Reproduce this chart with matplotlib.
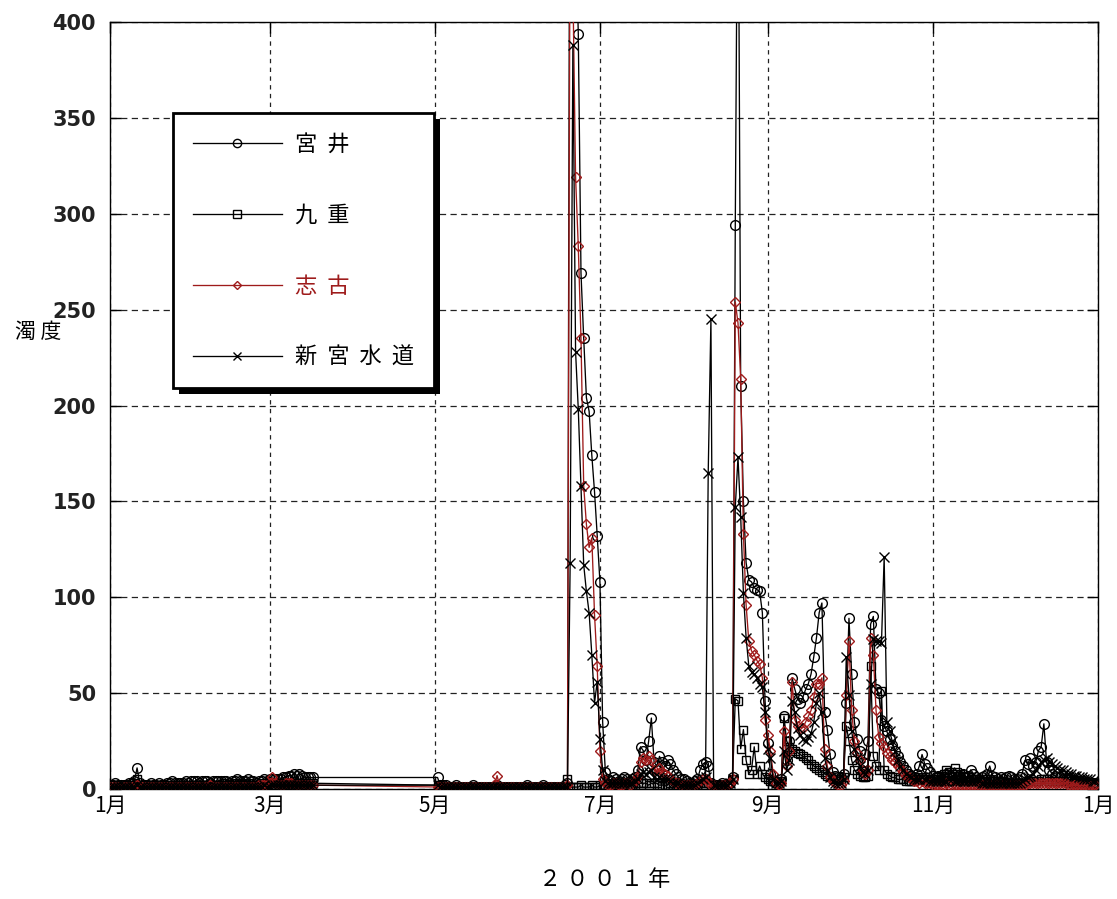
import numpy as np
import matplotlib
matplotlib.use('Agg')
import matplotlib.pyplot as plt
import matplotlib.dates as mdates
from matplotlib.ticker import FuncFormatter
from matplotlib.patches import Rectangle

plt.rcParams['font.family'] = ['Noto Sans CJK JP', 'DejaVu Sans']

# ---- data: daily turbidity, 2001 (day index 0 = Jan 1); no data Mar 18 - Apr 30 ----
days = list(range(0, 76)) + list(range(121, 365))

miyai = [  # 宮井
    2,2,3,2,2,2,2,3,3,4, 11,3,2,2,2,3,2,2,3,2, 2,3,3,4,3,3,3,3,4,3, 4,4,4,3,4,4,4,3,4,4,
    4,4,4,4,3,4,4,5,4,4, 4,5,4,4,3,4,4,5,4,5, 5,5,5,5,6,6,7,7,8,7, 8,7,6,6,6,6,
    # May
    6,2,2,2,1,1,1,2,1,1, 1,1,1,2,1,1,1,1,1,1, 1,1,2,1,1,1,1,1,1,1, 1,
    # June
    1,1,2,1,1,1,1,1,2,1, 1,1,1,1,1,1,2, 3,600,600,450,394,269,235,204,197,174,155,132,108,
    # July
    35,9, 5,4,6,5,4,5,6,5,4,5,6, 10, 22,20,15,25,37,14,12,17,14,12,15,13,10,8,6,5,5,
    # Aug
    4,3,3,4,5, 10,13,14,12,3, 2,2,2,3,2,2,3, 6, 294,520,210,150,118,109,108,105,104,103,92,46,24,
    # Sep
    8,4,3,3,5, 38,15,25,58,52, 47,45,48,52,55, 60,69,79,92,97, 40,31,18,9,7, 6,6,8,45,89,
    # Oct
    60,35,26,20,14, 18,25,86,90,52, 50,36,33,30,26, 23,20,17,14,12, 10,8,7,6,8, 12,18,13,11,9, 7,
    # Nov
    6,7,5,6,8,7,6,5,6,7, 8,6,7,10,8,6,5,6,7,8, 12,7,6,5,6,5,6,7,6,5,
    # Dec
    5,6,8,15,13,16,12,14,20,22, 34, 14,10,8,7,6,6,5,5,5,4, 4,4,4,4,4,3,3,3,3,
]

kokonoe = [  # 九重
    1,1,2,1,1,1,1,2,2,3, 5,2,1,1,1,2,1,1,2,1, 1,2,2,2,2,2,2,2,2,2, 2,2,2,2,2,2,2,2,2,2,
    2,2,3,2,2,2,2,3,2,2, 2,3,2,2,2,2,2,3,2,3, 3,3,3,3,3,3,3,3,4,3, 3,3,3,3,3,3,
    # May
    2,1,1,1,1,1,1,1,1,1, 1,1,1,1,1,1,1,1,1,1, 1,1,1,1,1,1,1,1,1,1, 1,
    # June
    1,1,1,1,1,1,1,1,1,1, 1,1,1,1,1,1,1, 5,1,1,1,1,2,1,1,1,2,1,1,2,
    # July
    2,2,2,2,3,2,2,2,2,2, 2,2,2,3,3,3,3,2,3,3, 3,2,2,2,2,3,2,2,2,2, 2,
    # Aug
    2,2,2,2,2,3,3,3,3,2,2,2,2,2,2,2,3, 5, 47,46,21,31,15,8,10,22,8,12,8,6,5,
    # Sep
    4,4,3,3,4, 37,25,22,21,20, 19,18,17,16,15, 13,12,11,10,9, 8,7,6,5,5, 5,5,6,33,25,
    # Oct
    15,10,8,7,6, 6,7,64,17,12, 10,51,10,8,7, 6,6,5,5,5, 4,4,4,4,5, 5,6,5,5,5, 5,
    # Nov
    5,6,7,8,10,9,8,11,9,8, 7,6,6,5,5,5,4,4,4,5, 5,4,4,4,4,4,3,3,3,3,
    # Dec
    3,3,3,3,4,4,4,4,4,5, 5,5,4,4,4,4,4,4,4,3, 3,3,3,3,3,3,3,3,3,3,
]

shiko = [  # 志古
    1,1,1,1,0,1,1,1,1,1, 2,1,1,1,1,1,1,1,1,1, 1,1,1,1,1,1,1,1,1,1, 1,1,1,1,1,1,1,2,1,1,
    1,1,1,1,1,1,1,1,1,1, 1,1,1,1,1,2,2,2,2,3, 6,3,2,2,2,3,3,3,2,2, 2,2,2,2,2,2,
    # May
    1,1,1,1,1,1,1,1,1,1, 1,1,1,1,1,1,1,1,1,1, 1,2,7,1,1,1,1,1,1,1, 1,
    # June
    1,1,1,1,1,1,1,1,1,1, 1,1,1,1,1,1,1, 2,480,420,319,283,235,158,138,126,131,91,64,20,
    # July
    5,3, 2,2,3,3,2,2,3,3,2,3,4, 7, 14,16,15,17,15,10,8,11,9,8,7,5,4,3,3,2,2,
    # Aug
    2,2,2,2,3,4,5,5,4,2,2,1,1,2,2,2,3, 5, 254,243,214,133,96,77,72,70,67,65,58,36,28,
    # Sep
    20,8,3,2,3, 30,12,20,56,36, 33,32,32,35,38, 41,48,55,55,58, 21,12,6,4,3, 2,2,4,49,77,
    # Oct
    41,25,19,15,10, 8,10,79,70,41, 27,24,22,19,17, 15,14,12,11,9, 7,6,5,4,4, 3,4,3,3,3, 2,
    # Nov
    2,2,2,2,3,2,2,2,2,2, 2,2,2,2,2,2,2,2,2,2, 2,2,2,2,2,2,2,2,2,2,
    # Dec
    2,2,2,2,3,3,3,3,3,3, 3,3,3,3,3,3,3,3,3,2, 2,2,2,2,2,2,2,2,2,2,
]

shingu = [  # 新宮水道
    1,1,1,1,1,1,1,1,1,1, 2,1,1,1,1,1,1,1,1,1, 1,1,1,1,1,1,1,1,1,1, 1,1,1,1,1,1,1,1,1,1,
    1,1,1,1,1,1,1,1,1,1, 1,1,1,1,1,1,1,2,1,1, 2,2,2,2,2,2,2,2,2,2, 2,2,2,2,2,2,
    # May
    2,1,1,1,1,1,1,1,1,1, 1,1,1,1,1,1,1,1,1,1, 1,1,1,1,1,1,1,1,1,1, 1,
    # June
    1,1,1,1,1,1,1,1,1,1, 1,1,1,1,1,1,1,1, 118,388,228,198,158,117,103,92,70,45,56,26,
    # July
    10,4, 3,3,3,3,3,3,3,3,3,3,4, 5, 8,9,8,9,10,6,5,6,5,5,5,4,3,3,3,2,2,
    # Aug
    2,2,2,2,3,4,5,6, 165,245, 2,2,2,2,2,2,3, 5, 147,173,142,102,79,64,61,60,58,55,53,40,21,
    # Sep
    16,5,3,3,4, 20,10,15,46,40, 32,28,26,25,27, 29,35,45,50,40, 16,10,6,4,3, 3,3,5,69,49,
    # Oct
    30,21,16,12,9, 8,10,55,78,77, 77,76,121,35,30, 25,20,15,12,10, 8,7,6,5,5, 5,6,5,5,4, 4,
    # Nov
    4,4,4,4,4,5,5,4,4,4, 4,4,4,4,4,4,4,3,3,3, 3,3,3,3,3,3,3,3,3,3,
    # Dec
    3,3,4,5,6,7,8,10,12,14, 15,16,14,13,12,11,10,10,9,8, 8,7,7,6,6,5,5,5,4,4,
]

labels = ['宮  井', '九  重', '志  古', '新  宮  水  道']
markers = ['o', 's', 'D', 'x']
msizes = [7.0, 6.0, 5.0, 7.5]
RED = '#9E1B1B'
colors = ['black', 'black', RED, 'black']

yticks = [0, 50, 100, 150, 200, 250, 300, 350, 400]
month_ticks = ['2001-01-01', '2001-03-01', '2001-05-01', '2001-07-01',
               '2001-09-01', '2001-11-01', '2002-01-01']

for s in (miyai, kokonoe, shiko, shingu):
    assert len(s) == len(days), len(s)

dates = np.datetime64('2001-01-01') + np.array(days).astype('timedelta64[D]')

W, H = 1117, 899
fig = plt.figure(figsize=(W / 100, H / 100), dpi=100)
ax = fig.add_axes([110 / W, 1 - 789 / H, 988 / W, 767 / H])

handles = []
for vals, lab, m, ms, c in zip((miyai, kokonoe, shiko, shingu), labels, markers, msizes, colors):
    h, = ax.plot(dates, vals, color=c, lw=0.95, marker=m, ms=ms, mfc='none',
                 mec=c, mew=1.0, label=lab, zorder=3)
    handles.append(h)

ax.set_ylim(0, 400)
ax.set_xlim(np.datetime64('2001-01-01'), np.datetime64('2002-01-01'))
ax.set_yticks(yticks)
ax.set_xticks([np.datetime64(t) for t in month_ticks])
ax.xaxis.set_major_formatter(FuncFormatter(
    lambda v, p: f"{mdates.num2date(v).month}月"))

ax.grid(axis='y', color='#222222', linestyle=(0, (5, 3.5)), lw=0.9)
ax.grid(axis='x', color='#222222', linestyle=(0, (3.5, 3.5)), lw=0.9)
ax.set_axisbelow(True)

ax.tick_params(axis='both', direction='in', length=8, width=1.0,
               top=True, right=True, colors='black')
ax.tick_params(axis='y', labelsize=15, pad=10)
ax.tick_params(axis='x', labelsize=15, pad=4)
for t in ax.get_yticklabels():
    t.set_fontfamily('DejaVu Sans')
    t.set_fontweight('bold')
    t.set_color('#222222')
for sp in ax.spines.values():
    sp.set_linewidth(1.0)
    sp.set_color('black')

fig.text(38 / W, 1 - 332 / H, '濁 度', fontsize=15, ha='center', va='center')
fig.text(605 / W, 1 - 880 / H, '２ ０ ０ １ 年', fontsize=16, ha='center', va='center')

leg = fig.legend(handles=handles, labels=labels, loc='upper left',
                 bbox_to_anchor=(173 / W, 1 - 113 / H), bbox_transform=fig.transFigure,
                 borderaxespad=0, fontsize=16, handlelength=4.0, handletextpad=0.6,
                 labelspacing=2.15, borderpad=0.9, numpoints=1, fancybox=False,
                 framealpha=1, edgecolor='black', markerscale=0.85)
leg.get_frame().set_linewidth(2.0)
leg.set_zorder(10)
for txt, c in zip(leg.get_texts(), colors):
    txt.set_color(c)

fig.canvas.draw()
bb = leg.get_window_extent()
shadow = Rectangle((bb.x0 + 6, bb.y0 - 6), bb.width, bb.height, transform=None,
                   facecolor='black', edgecolor='none', zorder=9)
fig.add_artist(shadow)

fig.savefig('out.png', dpi=100)
